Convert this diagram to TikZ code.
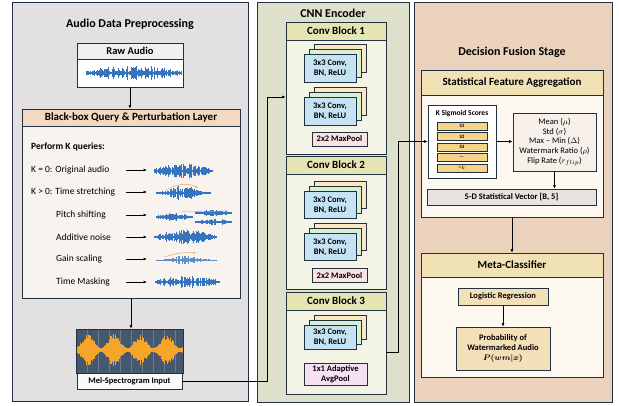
\documentclass[tikz,border=0pt]{standalone}
\usepackage{fontspec}
\setmainfont{Carlito}
\usepackage{bm}
\usetikzlibrary{arrows.meta,calc}
\definecolor{bordc}{HTML}{22313F}
\definecolor{leftbg}{HTML}{E2E0E0}
\definecolor{cnnbg}{HTML}{DDE0CB}
\definecolor{fusbg}{HTML}{EBD2BD}
\definecolor{rawhd}{HTML}{F0F0F0}
\definecolor{bbhd}{HTML}{F3D9C0}
\definecolor{bbbody}{HTML}{F8F3EF}
\definecolor{convhd}{HTML}{E5E4B3}
\definecolor{convbody}{HTML}{F3F3E6}
\definecolor{cardblue}{HTML}{C5E3F2}
\definecolor{cardgreen}{HTML}{D8EFD3}
\definecolor{cardorange}{HTML}{FCE7BE}
\definecolor{poolpink}{HTML}{FBE3E3}
\definecolor{poolpurple}{HTML}{F6E0F3}
\definecolor{sfahd}{HTML}{F1E2B5}
\definecolor{sfabody}{HTML}{FDF9F1}
\definecolor{scorec}{HTML}{F5D487}
\definecolor{statc}{HTML}{F6EFEA}
\definecolor{vecc}{HTML}{E9E3DF}
\definecolor{lrc}{HTML}{F3DFB8}
\definecolor{wavec}{HTML}{3574BE}
\definecolor{melbg}{HTML}{46586E}
\definecolor{melgrid}{HTML}{6A7C92}
\definecolor{melwave}{HTML}{F5A62A}
\definecolor{arrorange}{HTML}{E8A860}
\newcommand\wavebars[7]{%
  \pgfmathsetseed{#6}%
  \foreach \i in {0,...,#4}{%
    \pgfmathsetmacro\t{\i/#4}%
    \pgfmathsetmacro\a{#7}%
    \draw[#5] ({#1+#3*\t},{#2-\a}) -- ({#1+#3*\t},{#2+\a});
  }%
  \draw[#5] (#1,#2) -- ({#1+#3},#2);
}
\tikzset{
  panel/.style={draw=bordc, line width=0.7pt},
  box/.style={draw=bordc, line width=0.6pt, inner sep=1pt, align=center},
  arr/.style={-{Latex[length=3.5pt,width=2.8pt]}, line width=0.6pt, black},
  wv/.style={wavec, line width=0.45pt},
  ttl/.style={font=\fontsize{12}{14}\selectfont\bfseries},
  lbl/.style={font=\fontsize{9.5}{11}\selectfont, anchor=west, inner sep=0},
  card/.style={draw=bordc, line width=0.6pt, minimum width=52pt, inner sep=0},
  cardtxt/.style={font=\fontsize{8.5}{10}\selectfont\bfseries, align=center},
}
\newcommand\convstack[4]{%
  \node[card, fill=cardorange, minimum height=#4] at ({#2+10},{#3-10}) {};
  \node[card, fill=cardgreen, minimum height=#4] at ({#2+5},{#3-5}) {};
  \node[card, fill=cardblue, minimum height=#4, cardtxt] (#1) at (#2,#3) {3x3 Conv,\\BN, ReLU};
}
\begin{document}
\begin{tikzpicture}[x=1pt,y=-1pt]
\useasboundingbox (0,0) rectangle (619,405);
% ---------- panels ----------
\node[panel, fill=leftbg, minimum width=236pt, minimum height=399pt] (pleft) at (130,201.5) {};
\node[panel, fill=cnnbg, minimum width=152pt, minimum height=400pt] (pcnn) at (333,202) {};
\node[panel, fill=fusbg, minimum width=198pt, minimum height=400pt] (pfus) at (513,202) {};
\node[ttl] (tleft) at (130,24) {Audio Data Preprocessing};
\node[ttl] (tcnn) at (333,13) {CNN Encoder};
\node[ttl] (tfus) at (512,52) {Decision Fusion Stage};
% ---------- raw audio ----------
\node[box, fill=rawhd, minimum width=106pt, minimum height=16pt, font=\fontsize{10.5}{12}\selectfont\bfseries] (rawh) at (130,51) {Raw Audio};
\node[box, fill=white, minimum width=106pt, minimum height=28pt] (rawb) at (130,73) {};
\wavebars{86}{73}{95}{110}{wv}{11}{8*(0.1+0.9*rnd*sin(10+160*\t))}
% ---------- black-box ----------
\node[box, fill=bbhd, minimum width=218pt, minimum height=17pt, font=\fontsize{11}{13}\selectfont\bfseries] (bbh) at (131,117.5) {Black-box Query \& Perturbation Layer};
\node[box, fill=bbbody, minimum width=218pt, minimum height=172pt] (bbb) at (131,212) {};
\draw[arr] (rawb.south) -- (rawb.south |- bbh.north);
\node[lbl, font=\fontsize{9.5}{11}\selectfont\bfseries] (pk) at (31,147) {Perform K queries:};
\node[lbl] (l1) at (31,170) {K = 0: Original audio};
\node[lbl] (l2) at (31,192) {K > 0: Time stretching};
\node[lbl] (l3) at (56,215) {Pitch shifting};
\node[lbl] (l4) at (56,237) {Additive noise};
\node[lbl] (l5) at (56,259) {Gain scaling};
\node[lbl] (l6) at (56,282) {Time Masking};
\foreach \k/\y in {1/170,2/192,3/215,4/237,5/259,6/282}{
  \coordinate (as\k) at (126,\y);
  \coordinate (ae\k) at (147,\y);
  \draw[arr] (as\k) -- (ae\k);
}
% waveforms
\wavebars{154}{171}{58}{70}{wv}{21}{8*(0.12+0.88*rnd*sin(10+160*\t))}
\wavebars{156}{193}{54}{65}{wv}{22}{8*(0.1+0.9*rnd*pow(sin(10+160*\t),3))}
\draw[arrorange, line width=0.5pt, -{Latex[length=2.5pt,width=2pt]}] (166,190) .. controls (178,183) and (190,183) .. (198,188);
\wavebars{156}{217}{36}{40}{wv}{23}{4*(0.15+0.85*rnd*sin(10+160*\t))}
\wavebars{195}{213}{36}{40}{wv}{24}{3.5*(0.15+0.85*rnd*sin(10+160*\t))}
\wavebars{195}{222}{36}{40}{wv}{25}{3.5*(0.15+0.85*rnd*sin(10+160*\t))}
\draw[wavec!60, line width=0.4pt, -{Latex[length=2pt,width=2pt]}] (180,212) -- (228,211);
\wavebars{154}{237}{62}{75}{wv}{26}{7*(0.15+0.85*rnd*sin(10+160*\t))}
\foreach \px/\py in {158/232,163/243,170/230,176/244,186/229,192/243,199/231,206/242,212/233,166/236,203/238,181/242}{
  \fill[wavec!70] (\px,\py) circle (0.4pt);
}
\wavebars{156}{260}{60}{70}{wavec!80, line width=0.35pt}{27}{5*(0.08+0.92*rnd*pow(sin(10+160*\t),4))}
\draw[arrorange, line width=0.5pt, -{Latex[length=2.5pt,width=2pt]}] (165,257) .. controls (175,253) and (185,252) .. (196,253);
\wavebars{155}{282}{64}{80}{wv}{28}{6*(0.12+0.88*rnd*sin(10+160*\t))}
% ---------- mel spectrogram ----------
\node[box, fill=melbg, minimum width=107pt, minimum height=44pt] (mel) at (129.5,351) {};
\foreach \gx in {87,98,109,120,131,142,153,164,175}{
  \draw[melgrid, line width=0.4pt] (\gx,330) -- (\gx,372);
}
\wavebars{77}{350}{105}{140}{melwave, line width=0.75pt}{31}{17*(0.1+0.9*(0.5+0.5*rnd)*sin(720*\t+15)*sin(720*\t+15))}
\node[box, fill=white!96!gray, minimum width=105pt, minimum height=16pt, font=\fontsize{8.5}{10}\selectfont\bfseries] (mell) at (129.5,381) {Mel-Spectrogram Input};
\draw[arr] (bbb.south) -- (bbb.south |- mel.north);
% ---------- CNN encoder ----------
\node[box, fill=convhd, minimum width=100pt, minimum height=18pt, font=\fontsize{11}{13}\selectfont\bfseries] (c1h) at (336,31) {Conv Block 1};
\node[box, fill=convbody, minimum width=100pt, minimum height=114pt] (c1b) at (336,97) {};
\convstack{k11}{330}{68}{28pt}
\convstack{k12}{330}{111}{28pt}
\node[box, fill=poolpink, minimum width=55pt, minimum height=14pt, font=\fontsize{8.5}{10}\selectfont\bfseries] (mp1) at (339.5,139) {2x2 MaxPool};
\node[box, fill=convhd, minimum width=100pt, minimum height=18pt, font=\fontsize{11}{13}\selectfont\bfseries] (c2h) at (336,165) {Conv Block 2};
\node[box, fill=convbody, minimum width=100pt, minimum height=115pt] (c2b) at (336,231.5) {};
\convstack{k21}{330}{205}{27pt}
\convstack{k22}{330}{247}{27pt}
\node[box, fill=poolpink, minimum width=55pt, minimum height=14pt, font=\fontsize{8.5}{10}\selectfont\bfseries] (mp2) at (339.5,275.5) {2x2 MaxPool};
\node[box, fill=convhd, minimum width=100pt, minimum height=18pt, font=\fontsize{11}{13}\selectfont\bfseries] (c3h) at (336,301) {Conv Block 3};
\node[box, fill=convbody, minimum width=100pt, minimum height=84pt] (c3b) at (336,352) {};
\convstack{k31}{330}{337.5}{24pt}
\node[box, fill=poolpurple, minimum width=63pt, minimum height=22pt, font=\fontsize{8.5}{10}\selectfont\bfseries] (ap) at (335.5,374) {1x1 Adaptive\\AvgPool};
% ---------- fusion ----------
\node[box, fill=sfahd, minimum width=182pt, minimum height=25pt, font=\fontsize{11}{13}\selectfont\bfseries] (sfah) at (512,82.5) {Statistical Feature Aggregation};
\node[box, fill=sfabody, minimum width=182pt, minimum height=122pt] (sfab) at (512,156) {};
\node[box, fill=white, minimum width=68pt, minimum height=73pt] (kbox) at (462,141.5) {};
\node[font=\fontsize{7.5}{9}\selectfont\bfseries, inner sep=0] (ktitle) at (462,113) {K Sigmoid Scores};
\foreach \n/\y/\s in {1/126/S1,2/136.5/S2,3/147/S3,4/157.5/{\ldots},5/168/{$s_k$}}{
  \node[box, fill=scorec, minimum width=50pt, minimum height=8pt, inner sep=0, font=\fontsize{5}{6}\selectfont\bfseries] (sc\n) at (462,\y) {\s};
}
\node[box, fill=statc, minimum width=83pt, minimum height=58pt, font=\fontsize{8.5}{9.6}\selectfont] (stats) at (554.5,142) {Mean ($\mu$)\\Std ($\sigma$)\\Max -- Min ($\Delta$)\\Watermark Ratio ($\rho$)\\Flip Rate ($r_{flip}$)};
\node[box, fill=vecc, minimum width=169pt, minimum height=16pt, font=\fontsize{8.5}{10}\selectfont\bfseries] (vec) at (511.5,197) {5-D Statistical Vector [B, 5]};
\draw[arr] (kbox.east) -- (stats.west |- kbox.east);
\draw[arr] (stats.south) -- (stats.south |- vec.north);
\node[box, fill=sfahd, minimum width=182pt, minimum height=24pt, font=\fontsize{11}{13}\selectfont\bfseries] (mch) at (512,265) {Meta-Classifier};
\node[box, fill=sfabody, minimum width=182pt, minimum height=100pt] (mcb) at (512,327) {};
\draw[arr] (sfab.south) -- (mch.north);
\node[box, fill=lrc, minimum width=90pt, minimum height=17pt, font=\fontsize{8.5}{10}\selectfont\bfseries] (lr) at (503,296.5) {Logistic Regression};
\node[box, fill=lrc, minimum width=94pt, minimum height=43pt, font=\fontsize{8.5}{10}\selectfont\bfseries] (prob) at (503,348.5) {Probability of\\Watermarked Audio\\$\bm{P(wm|x)}$};
\draw[arr] (lr.south) -- (prob.north);
% ---------- long connectors ----------
\coordinate (j1) at (267,381);
\coordinate (j2) at (267,97);
\draw[arr] (mell.east) -- (j1) -- (j2) -- (c1b.west);
\coordinate (j3) at (398,352);
\coordinate (j4) at (398,141.5);
\draw[arr] (c3b.east) -- (j3) -- (j4) -- (kbox.west);
\end{tikzpicture}
\end{document}
